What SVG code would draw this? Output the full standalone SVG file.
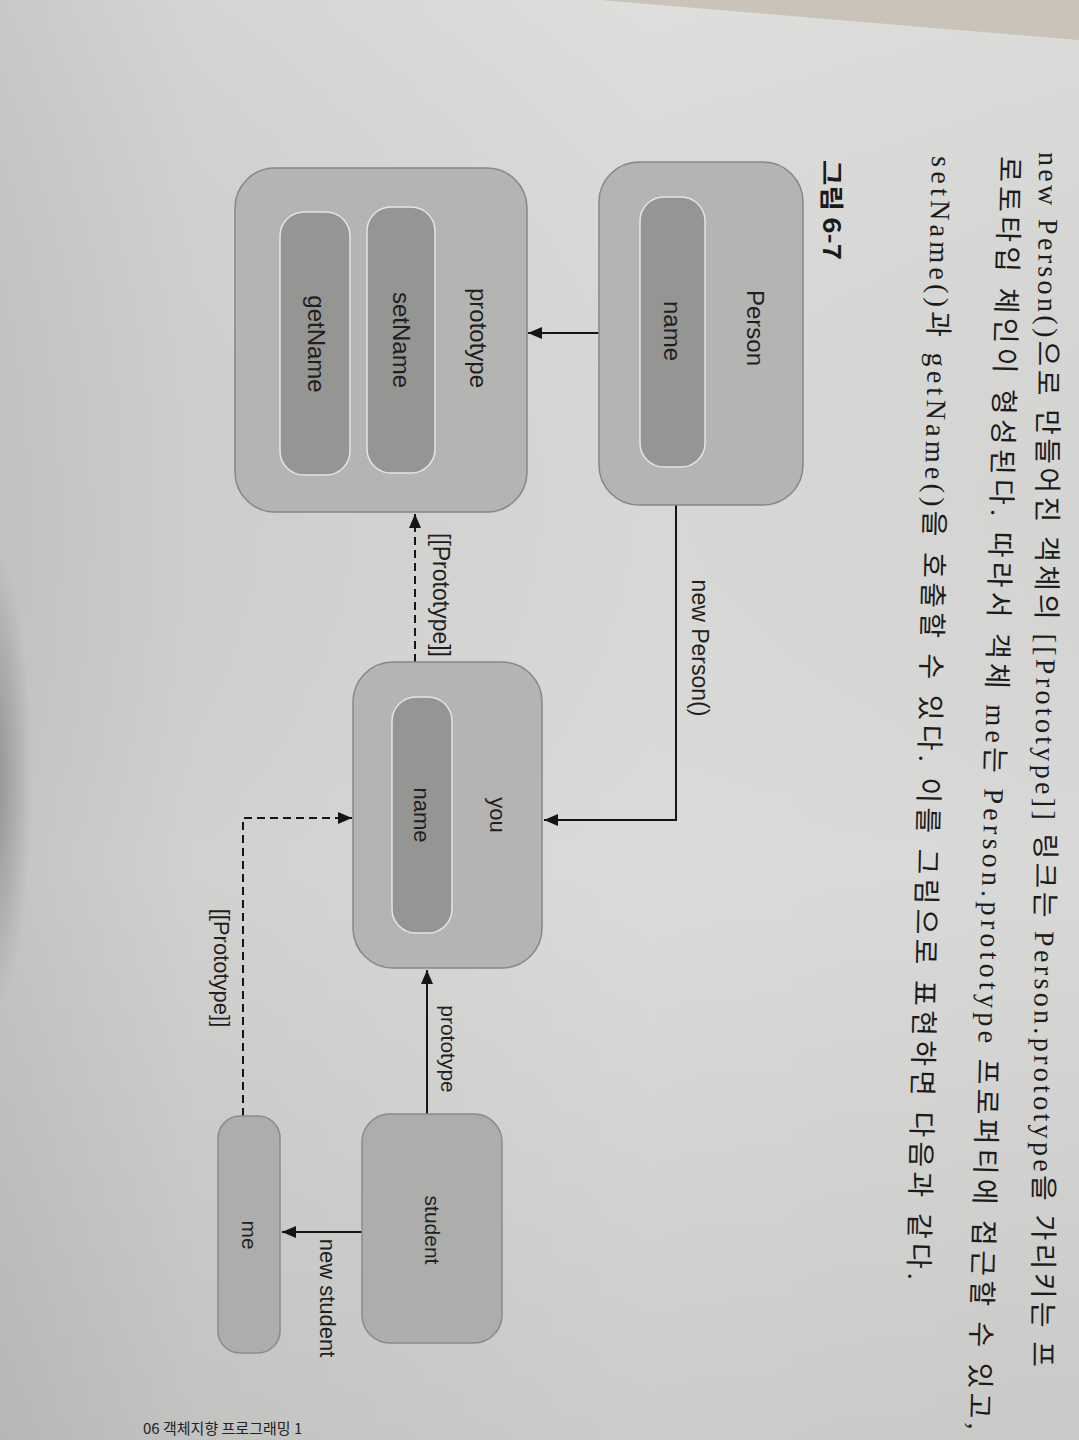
<svg xmlns="http://www.w3.org/2000/svg" width="1079" height="1440" viewBox="0 0 1079 1440">
  <defs>
    <linearGradient id="pageH" x1="0" y1="0" x2="1" y2="0">
      <stop offset="0" stop-color="#c4c4c2"/>
      <stop offset="0.18" stop-color="#d1d1cf"/>
      <stop offset="0.6" stop-color="#dbdbd9"/>
      <stop offset="1" stop-color="#d8d8d6"/>
    </linearGradient>
    <linearGradient id="pageV" x1="0" y1="0" x2="0" y2="1">
      <stop offset="0" stop-color="#ffffff" stop-opacity="0.08"/>
      <stop offset="0.6" stop-color="#000000" stop-opacity="0"/>
      <stop offset="1" stop-color="#000000" stop-opacity="0.07"/>
    </linearGradient>
    <radialGradient id="shadow" cx="0.5" cy="0.5" r="0.5">
      <stop offset="0" stop-color="#6a6a68" stop-opacity="0.6"/>
      <stop offset="1" stop-color="#6a6a68" stop-opacity="0"/>
    </radialGradient>
    <marker id="arrow" markerUnits="userSpaceOnUse" markerWidth="16" markerHeight="14" refX="14" refY="7" orient="auto">
      <path d="M0,1 L14,7 L0,13 z" fill="#151515"/>
    </marker>
    <style>
      .outer { fill: #b4b4b3; stroke: #878787; stroke-width: 1.5; }
      .inner { fill: #959594; stroke: #e4e4e2; stroke-width: 1.5; }
      .small { fill: #adadac; stroke: #8a8a8a; stroke-width: 1.5; }
      .lbl { font-family: "Liberation Sans", Arial, sans-serif; fill: #1f1f1f; text-anchor: middle; }
      .body { font-family: "Liberation Serif", "Noto Sans CJK KR", serif; font-size: 28px; fill: #1c1c1c; }
      .conn { fill: none; stroke: #151515; stroke-width: 2; }
      .dash { stroke-dasharray: 8 5; }
    </style>
  </defs>

  <!-- page background -->
  <rect x="0" y="0" width="1079" height="1440" fill="url(#pageH)"/>
  <rect x="0" y="0" width="1079" height="1440" fill="url(#pageV)"/>
  <polygon points="600,0 1079,0 1079,40" fill="#c9c3b9"/>
  <ellipse cx="-8" cy="780" rx="40" ry="230" fill="url(#shadow)"/>

  <!-- body text (page rotated) -->
  <g id="body-text">
    <text class="body" transform="translate(1039,152) rotate(90.3)" textLength="1215" lengthAdjust="spacing">new Person()으로 만들어진 객체의 [[Prototype]] 링크는 Person.prototype을 가리키는 프</text>
    <text class="body" transform="translate(1000,156) rotate(91.4)" textLength="1274" lengthAdjust="spacing">로토타입 체인이 형성된다. 따라서 객체 me는 Person.prototype 프로퍼티에 접근할 수 있고,</text>
    <text class="body" transform="translate(932,156) rotate(91.2)" textLength="1124" lengthAdjust="spacing">setName()과 getName()을 호출할 수 있다. 이를 그림으로 표현하면 다음과 같다.</text>
  </g>

  <g id="caption">
    <text transform="translate(823,160) rotate(90)" font-family="'Noto Sans CJK KR', sans-serif" font-weight="bold" font-size="24" fill="#1a1a1a" textLength="100" lengthAdjust="spacingAndGlyphs">그림 6-7</text>
  </g>

  <!-- connectors -->
  <g id="connectors">
    <path class="conn" d="M599,333 L528,333" marker-end="url(#arrow)"/>
    <path class="conn" d="M676,505 L676,820 L544,820" marker-end="url(#arrow)"/>
    <path class="conn dash" d="M415,662 L415,514" marker-end="url(#arrow)"/>
    <path class="conn" d="M427,1114 L427,970" marker-end="url(#arrow)"/>
    <path class="conn dash" d="M243,1116 L243,818 L352,818" marker-end="url(#arrow)"/>
    <path class="conn" d="M362,1232 L282,1232" marker-end="url(#arrow)"/>
    <text class="lbl" font-size="23" transform="translate(692,648) rotate(90)">new Person()</text>
    <text class="lbl" font-size="23" transform="translate(433,595) rotate(90)">[[Prototype]]</text>
    <text class="lbl" font-size="21" transform="translate(441,1049) rotate(90)">prototype</text>
    <text class="lbl" font-size="22" transform="translate(214,968) rotate(90)">[[Prototype]]</text>
    <text class="lbl" font-size="22" transform="translate(320,1298) rotate(90)">new student</text>
  </g>

  <!-- nodes -->
  <g id="node-person">
    <rect class="outer" x="599" y="162" width="204" height="343" rx="40"/>
    <rect class="inner" x="640" y="197" width="65" height="270" rx="24"/>
    <text class="lbl" font-size="24" transform="translate(747,328) rotate(90)">Person</text>
    <text class="lbl" font-size="24" transform="translate(664,331) rotate(90)">name</text>
  </g>

  <g id="node-prototype">
    <rect class="outer" x="235" y="168" width="292" height="344" rx="40"/>
    <rect class="inner" x="367" y="207" width="68" height="266" rx="24"/>
    <rect class="inner" x="280" y="212" width="70" height="263" rx="24"/>
    <text class="lbl" font-size="24" transform="translate(470,338) rotate(90)">prototype</text>
    <text class="lbl" font-size="24" transform="translate(393,340) rotate(90)">setName</text>
    <text class="lbl" font-size="24" transform="translate(308,344) rotate(90)">getName</text>
  </g>

  <g id="node-you">
    <rect class="outer" x="353" y="662" width="189" height="306" rx="40"/>
    <rect class="inner" x="392" y="697" width="60" height="236" rx="24"/>
    <text class="lbl" font-size="22" transform="translate(490,815) rotate(90)">you</text>
    <text class="lbl" font-size="22" transform="translate(414,815) rotate(90)">name</text>
  </g>

  <g id="node-student">
    <rect class="small" x="362" y="1114" width="140" height="229" rx="28"/>
    <text class="lbl" font-size="21" transform="translate(425,1230) rotate(90)">student</text>
  </g>

  <g id="node-me">
    <rect class="small" x="218" y="1116" width="62" height="237" rx="22"/>
    <text class="lbl" font-size="21" transform="translate(242,1235) rotate(90)">me</text>
  </g>

  <g id="footer">
    <text x="143" y="1434" font-family="'Noto Sans CJK KR', sans-serif" font-size="15" fill="#222">06  객체지향 프로그래밍  1</text>
  </g>
</svg>
